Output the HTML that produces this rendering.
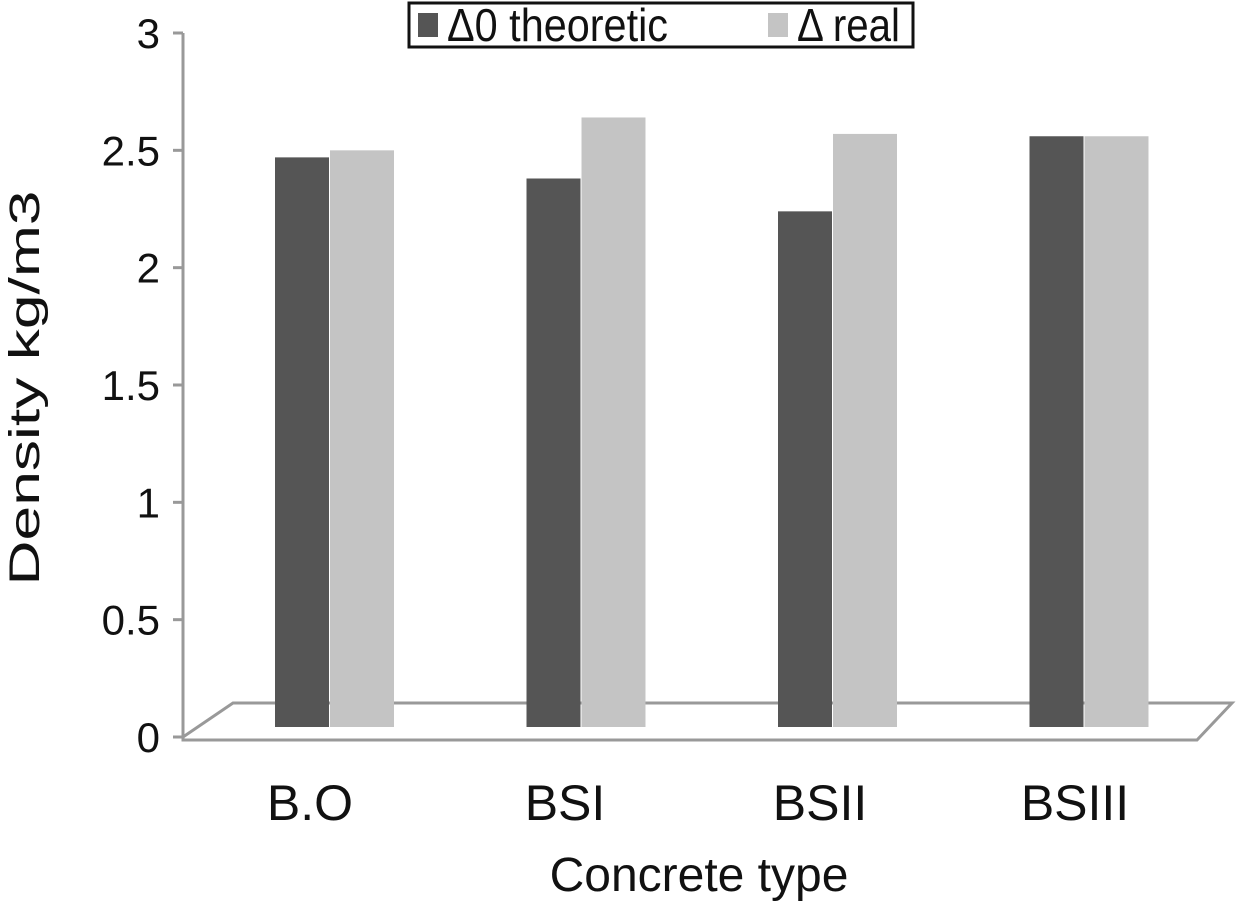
<!DOCTYPE html>
<html><head><meta charset="utf-8"><style>
html,body{margin:0;padding:0;background:#fff;}
svg{display:block;font-family:"Liberation Sans",sans-serif;}
</style></head><body>
<svg id="chart" width="1243" height="903" viewBox="0 0 1243 903">
<g id="floor">
<polygon points="183,737 233,703 1232,703 1197,740 183,740" fill="#fff" stroke="#999" stroke-width="3"/>
</g>
<line x1="183" y1="33" x2="183" y2="738" stroke="#999" stroke-width="3"/>
<g id="yticks"></g>
<g id="bars"></g>
<g id="xlabels"></g>
<text transform="translate(39,388) rotate(-90)" x="0" y="0" text-anchor="middle" font-size="43" textLength="395" lengthAdjust="spacingAndGlyphs" fill="#111">Density kg/m3</text>
<text x="699" y="891" text-anchor="middle" font-size="48" fill="#111">Concrete type</text>
<g>
<rect x="409" y="3" width="504" height="44" fill="#fff" stroke="#111" stroke-width="3"/>
<g>
<rect x="418" y="13" width="20" height="24" fill="#555"/>
<text x="447" y="41" font-size="46" textLength="221" lengthAdjust="spacingAndGlyphs" fill="#111">Δ0 theoretic</text>
</g>
<g>
<rect x="768" y="13" width="20" height="24" fill="#c4c4c4"/>
<text x="797" y="41" font-size="46" textLength="103" lengthAdjust="spacingAndGlyphs" fill="#111">Δ real</text>
</g>
</g>
</svg>
<script>
const categories = ["B.O", "BSI", "BSII", "BSIII"];
const theoretic = [2.47, 2.38, 2.24, 2.56];
const real = [2.50, 2.64, 2.57, 2.56];
const yTicks = [0, 0.5, 1, 1.5, 2, 2.5, 3];
const yTickLabels = ["0", "0.5", "1", "1.5", "2", "2.5", "3"];

const NS = "http://www.w3.org/2000/svg";
const y0 = 737, yTop = 33, yMax = 3;
function yScale(v){ return y0 - (y0 - yTop) * v / yMax; }
const groupStart = 275, groupStep = 251.5;
function xScale(i){ return groupStart + i * groupStep; }
function labelX(i){ return 310 + i * 255; }
const barBase = 727;

const ticksG = document.getElementById('yticks');
yTicks.forEach((t, i) => {
  const y = yScale(t);
  const l = document.createElementNS(NS, 'line');
  l.setAttribute('x1', 173); l.setAttribute('x2', 183);
  l.setAttribute('y1', y); l.setAttribute('y2', y);
  l.setAttribute('stroke', '#999'); l.setAttribute('stroke-width', 3);
  
  
  ticksG.appendChild(l);
  const tx = document.createElementNS(NS, 'text');
  tx.setAttribute('x', 160); tx.setAttribute('y', y + 15);
  tx.setAttribute('text-anchor', 'end'); tx.setAttribute('font-size', 42);
  tx.setAttribute('fill', '#111');
  tx.textContent = yTickLabels[i];
  
  
  ticksG.appendChild(tx);
});

const barsG = document.getElementById('bars');
const xl = document.getElementById('xlabels');
categories.forEach((c, i) => {
  const x = xScale(i);
  const d = document.createElementNS(NS, 'rect');
  d.setAttribute('x', x); d.setAttribute('width', 54);
  d.setAttribute('y', yScale(theoretic[i]));
  d.setAttribute('height', barBase - yScale(theoretic[i]));
  d.setAttribute('fill', '#555');
  
  
  barsG.appendChild(d);
  const r = document.createElementNS(NS, 'rect');
  r.setAttribute('x', x + 55); r.setAttribute('width', 64);
  r.setAttribute('y', yScale(real[i]));
  r.setAttribute('height', barBase - yScale(real[i]));
  r.setAttribute('fill', '#c4c4c4');
  
  
  barsG.appendChild(r);
  const t = document.createElementNS(NS, 'text');
  t.setAttribute('x', labelX(i)); t.setAttribute('y', 820);
  t.setAttribute('text-anchor', 'middle'); t.setAttribute('font-size', 50);
  t.setAttribute('fill', '#111');
  t.textContent = c;
  
  
  xl.appendChild(t);
});
</script>
</body></html>
